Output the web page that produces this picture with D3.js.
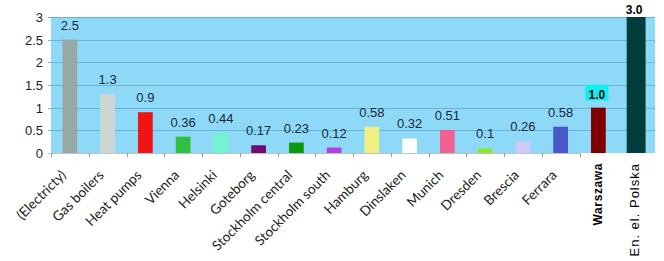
<!DOCTYPE html>
<html>
<head>
<meta charset="utf-8">
<script src="https://cdn.jsdelivr.net/npm/d3@7"></script>
<style>
  html, body { margin: 0; padding: 0; background: #fff; }
  svg { display: block; }
</style>
</head>
<body>
<div id="chart"></div>
<script>
// categories and values
const categories = ['(Electricty)', 'Gas boilers', 'Heat pumps', 'Vienna', 'Helsinki', 'Goteborg',
    'Stockholm central', 'Stockholm south', 'Hamburg', 'Dinslaken', 'Munich', 'Dresden',
    'Brescia', 'Ferrara', 'Warszawa', 'En. el. Polska'];
const values = [2.5, 1.3, 0.9, 0.36, 0.44, 0.17, 0.23, 0.12, 0.58, 0.32, 0.51, 0.1, 0.26, 0.58, 1.0, 3.0];
const valueLabels = ['2.5', '1.3', '0.9', '0.36', '0.44', '0.17', '0.23', '0.12', '0.58', '0.32',
    '0.51', '0.1', '0.26', '0.58', '1.0', '3.0'];
const barColors = ['#98a8a4', '#cdd6d3', '#f01414', '#30c040', '#70f5d0', '#6e0a6e', '#0a9a10',
    '#b040e0', '#f0f080', '#ffffff', '#f06090', '#90e820', '#d0c8f8', '#4858c8', '#800000', '#003c3c'];
const yTicks = [0, 0.5, 1, 1.5, 2, 2.5, 3];

// the last two bars were added on top of the original chart
const addedCount = 2;
const origCount = categories.length - addedCount;

const width = 664, height = 261;
const margin = { top: 17, right: 9, bottom: 108, left: 51 };

const svg = d3.select('#chart')
    .append('svg')
    .attr('width', width)
    .attr('height', height);

const x = d3.scaleBand()
    .domain(categories)
    .range([margin.left, width - margin.right]);

const y = d3.scaleLinear()
    .domain([0, 3])
    .range([height - margin.bottom, margin.top]);

// plot background
svg.append('rect')
    .attr('x', margin.left)
    .attr('y', margin.top)
    .attr('width', width - margin.right - margin.left)
    .attr('height', y(0) - margin.top)
    .attr('fill', '#8ed9f7');

// gridlines + left tick marks
svg.selectAll('.grid')
    .data(yTicks.filter(d => d > 0))
    .enter()
    .append('line')
    .attr('x1', margin.left - 3)
    .attr('x2', width - margin.right)
    .attr('y1', d => Math.round(y(d)) + 0.5)
    .attr('y2', d => Math.round(y(d)) + 0.5)
    .attr('stroke', '#6ab5d6')
    .attr('stroke-width', 1);

// y labels
svg.selectAll('.ylab')
    .data(yTicks)
    .enter()
    .append('text')
    .attr('x', 43)
    .attr('y', d => y(d) + 5)
    .attr('text-anchor', 'end')
    .attr('font-family', 'Liberation Sans, Arial, sans-serif')
    .attr('font-size', '13px')
    .attr('fill', '#222')
    .text(d => d);

// bottom axis line and ticks (only for the original categories)
svg.append('line')
    .attr('x1', margin.left - 3)
    .attr('x2', x(categories[origCount]))
    .attr('y1', y(0) + 0.5)
    .attr('y2', y(0) + 0.5)
    .attr('stroke', '#b8c4c8');

svg.selectAll('.xtick')
    .data(d3.range(origCount + 1))
    .enter()
    .append('line')
    .attr('x1', i => Math.round(margin.left + i * x.step()) + 0.5)
    .attr('x2', i => Math.round(margin.left + i * x.step()) + 0.5)
    .attr('y1', y(0))
    .attr('y2', y(0) + 4)
    .attr('stroke', '#999');

// bars
const barW = i => x.bandwidth() * (i === categories.length - 1 ? 0.5 : 0.39);

svg.selectAll('.bar')
    .data(values)
    .enter()
    .append('rect')
    .attr('class', 'bar')
    .attr('x', (d, i) => x(categories[i]) + x.bandwidth() / 2 - barW(i) / 2)
    .attr('y', d => y(d))
    .attr('width', (d, i) => barW(i))
    .attr('height', d => y(0) - y(d))
    .attr('fill', (d, i) => barColors[i]);

// value labels for the original bars
svg.selectAll('.vlab')
    .data(values.slice(0, origCount))
    .enter()
    .append('text')
    .attr('x', (d, i) => x(categories[i]) + x.bandwidth() / 2)
    .attr('y', d => y(d) - 10)
    .attr('text-anchor', 'middle')
    .attr('font-family', 'Liberation Sans, Arial, sans-serif')
    .attr('font-size', '13px')
    .attr('fill', '#1a2838')
    .text((d, i) => valueLabels[i]);

// value labels for the added bars
const wi = origCount, pi = origCount + 1;
const wx = x(categories[wi]) + x.bandwidth() / 2;
svg.append('rect')
    .attr('x', wx - 13)
    .attr('y', y(values[wi]) - 23)
    .attr('width', 23)
    .attr('height', 16)
    .attr('fill', '#10f0f0');

svg.append('text')
    .attr('x', wx - 1.5)
    .attr('y', y(values[wi]) - 9)
    .attr('text-anchor', 'middle')
    .attr('font-family', 'Liberation Sans Narrow, Arial Narrow, Liberation Sans, sans-serif')
    .attr('font-weight', 'bold')
    .attr('font-size', '12px')
    .attr('fill', '#000')
    .text(valueLabels[wi]);

svg.append('text')
    .attr('x', x(categories[pi]) + x.bandwidth() / 2 - 2)
    .attr('y', y(values[pi]) - 3)
    .attr('text-anchor', 'middle')
    .attr('font-family', 'Liberation Sans Narrow, Arial Narrow, Liberation Sans, sans-serif')
    .attr('font-weight', 'bold')
    .attr('font-size', '12px')
    .attr('fill', '#000')
    .text(valueLabels[pi]);

// rotated category labels
svg.selectAll('.xlab')
    .data(categories.slice(0, origCount))
    .enter()
    .append('text')
    .attr('transform', d => `translate(${x(d) + x.bandwidth() / 2 - 3},${y(0) + 23}) rotate(-45)`)
    .attr('text-anchor', 'end')
    .attr('font-family', 'Lato, sans-serif')
    .attr('font-size', '13.6px')
    .attr('fill', '#222')
    .text(d => d);

// vertical labels of the added bars
svg.append('text')
    .attr('transform', `translate(${wx + 4},${y(0) + 10}) rotate(-90)`)
    .attr('text-anchor', 'end')
    .attr('font-family', 'Liberation Sans, Arial, sans-serif')
    .attr('font-weight', 'bold')
    .attr('font-size', '12px')
    .attr('letter-spacing', '0.6px')
    .attr('fill', '#000')
    .text(categories[wi]);

svg.append('text')
    .attr('transform', `translate(${x(categories[pi]) + x.bandwidth() / 2 + 3},${y(0) + 10}) rotate(-90)`)
    .attr('text-anchor', 'end')
    .attr('font-family', 'Liberation Sans, Arial, sans-serif')
    .attr('font-size', '13px')
    .attr('letter-spacing', '1px')
    .attr('fill', '#000')
    .text(categories[pi]);
</script>
</body>
</html>
